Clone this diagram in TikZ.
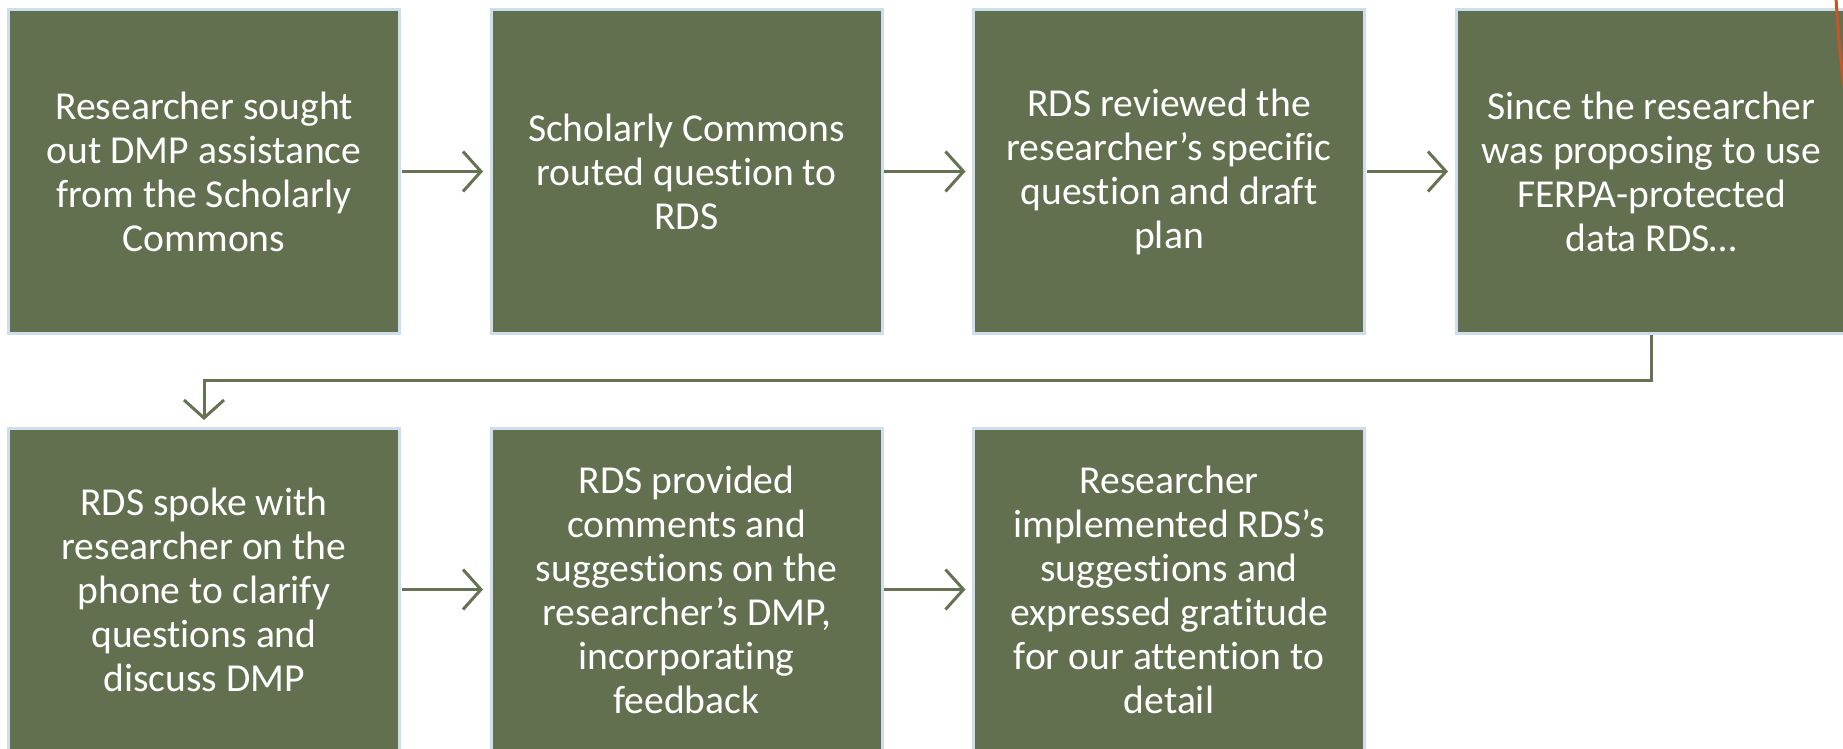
\documentclass[tikz,border=0pt]{standalone}
\usepackage{fontspec}
\setmainfont{Carlito}[Ligatures={NoCommon,NoRequired,NoContextual}]
\usetikzlibrary{arrows.meta}
\definecolor{boxgreen}{RGB}{99,112,80}
\definecolor{boxedge}{RGB}{205,222,236}
\definecolor{linegreen}{RGB}{101,115,82}
\definecolor{swoosh}{RGB}{196,86,40}
\tikzset{
  stepbox/.style={rectangle, fill=boxgreen, draw=boxedge, line width=1.5pt,
    minimum width=195.5pt, minimum height=161.5pt, inner sep=0pt, outer sep=0pt,
    text=white, align=center, font=\fontsize{19.8pt}{22pt}\selectfont},
  flow/.style={draw=linegreen, line width=1.5pt, -{Straight Barb[length=9pt,width=20pt,line width=1.5pt]}}
}
\begin{document}
\begin{tikzpicture}[x=0.5pt,y=-0.5pt]
\useasboundingbox (0,0) rectangle (1843,749);
\clip (0,0) rectangle (1843,749);
\node[stepbox] (b1) at (204,171.5) {Researcher sought\\out DMP assistance\\from the Scholarly\\Commons};
\node[stepbox] (b2) at (686.5,171.5) {Scholarly Commons\\routed question to\\RDS};
\node[stepbox] (b3) at (1169,171.5) {RDS reviewed the\\researcher’s specific\\question and draft\\plan};
\node[stepbox] (b4) at (1651.5,171.5) {Since the researcher\\was proposing to use\\FERPA-protected\\data RDS…};
\node[stepbox] (b5) at (204,589.5) {RDS spoke with\\researcher on the\\phone to clarify\\questions and\\discuss DMP};
\node[stepbox] (b6) at (686.5,589.5) {RDS provided\\comments and\\suggestions on the\\researcher’s DMP,\\incorporating\\feedback};
\node[stepbox] (b7) at (1169,589.5) {Researcher\\implemented RDS’s\\suggestions and\\expressed gratitude\\for our attention to\\detail};
\draw[flow, shorten <=1pt, shorten >=4pt] (b1) -- (b2);
\draw[flow, shorten <=1pt, shorten >=4pt] (b2) -- (b3);
\draw[flow, shorten <=1pt, shorten >=4pt] (b3) -- (b4);
\draw[flow, shorten <=1pt, shorten >=4pt] (b5) -- (b6);
\draw[flow, shorten <=1pt, shorten >=4pt] (b6) -- (b7);
\coordinate (elbow) at (900,380);
\draw[flow, shorten <=1pt, shorten >=4pt] (b4.south) |- (elbow) -| (b5.north);
\draw[swoosh, line width=1.5pt] (1836,-2) .. controls (1838,30) and (1840,60) .. (1846,100);
\end{tikzpicture}
\end{document}
